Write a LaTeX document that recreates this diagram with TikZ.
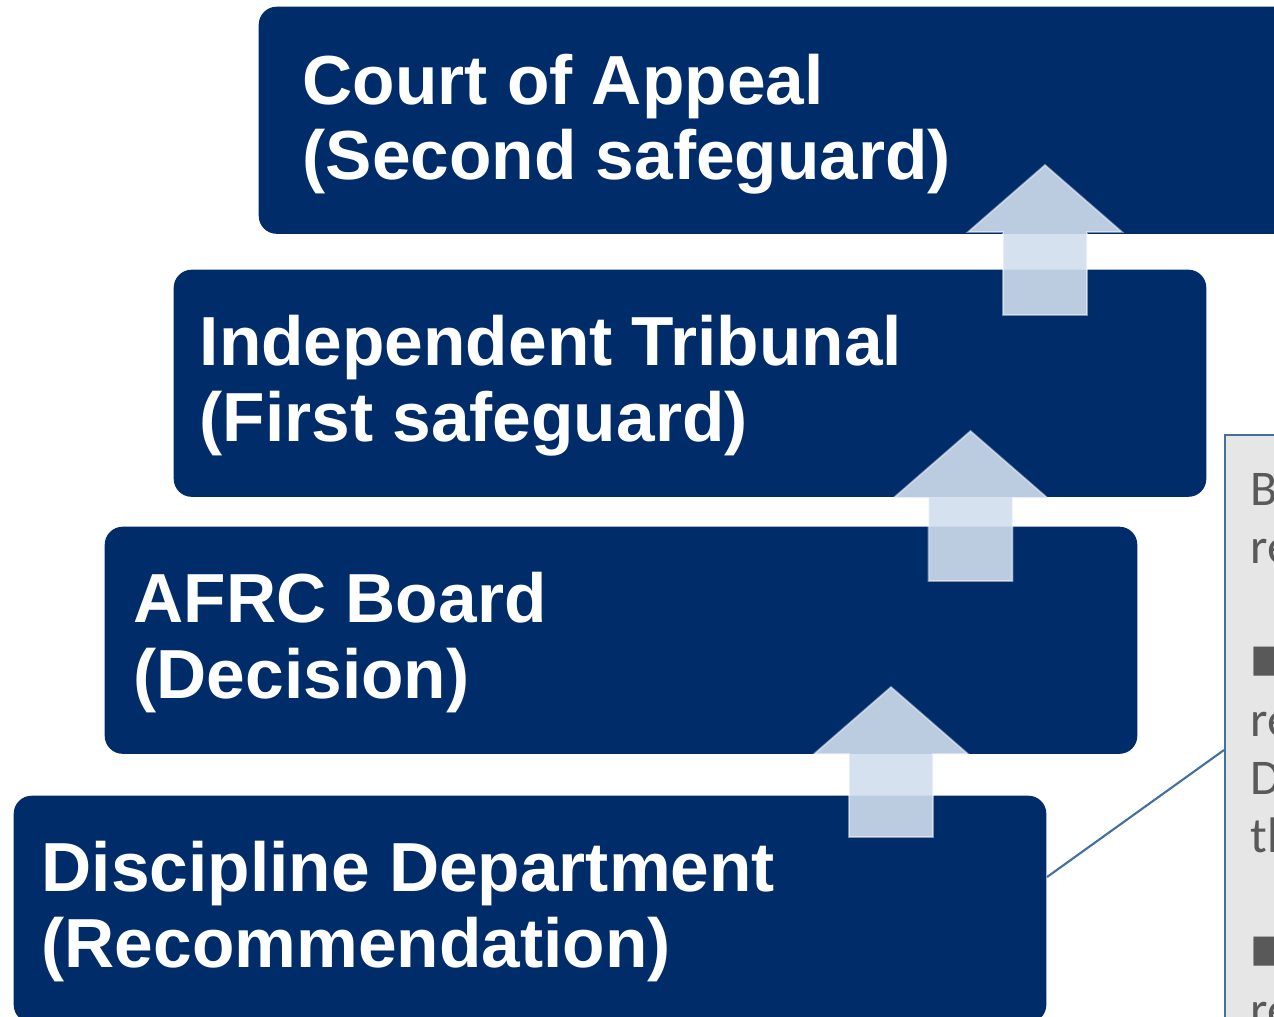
\documentclass[tikz,border=0pt]{standalone}
\usepackage{fontspec}
\usepackage{xcolor}
\newfontfamily\blockfont{Liberation Sans}
\newfontfamily\notefont{Carlito}
\newfontfamily\bulletfont{DejaVu Sans}
\newcommand\notebullet{\raisebox{2pt}{\bulletfont\fontsize{10.8}{10.8}\selectfont■}}
\definecolor{navy}{RGB}{0,44,105}
\definecolor{arrowblue}{RGB}{209,222,238}
\definecolor{notegray}{RGB}{231,230,230}
\definecolor{noteline}{RGB}{65,113,156}
\definecolor{notetext}{RGB}{89,89,89}

\begin{document}
\begin{tikzpicture}[x=0.01cm,y=-0.01cm,
		block/.style={fill=navy, rounded corners=0.18cm, minimum width=10.32cm, minimum height=2.27cm, anchor=north west, inner sep=0pt},
		blocktext/.style={text=white, anchor=base west, align=left, inner sep=0pt, font=\blockfont\bfseries\fontsize{19.75}{21.34}\selectfont},
		uparrow/.style={fill=arrowblue, fill opacity=0.9, draw=white, draw opacity=0.45, line width=0.5pt},
		note/.style={fill=notegray, draw=noteline, line width=0.7pt, minimum width=3cm, minimum height=7cm, anchor=north west},
		notetext/.style={text=notetext, anchor=base west, align=left, inner sep=0pt, font=\notefont\fontsize{14.2}{16.45}\selectfont},
		pointer/.style={draw=noteline, line width=0.6pt}]
		% Parameters
		\def\headw{77}
		\def\headh{67}
		\def\shaftw{42}
		\def\shaftl{150}
		
		\useasboundingbox (0,0) rectangle (1274,1016);
		\clip (0,0) rectangle (1274,1016);
		\fill[white] (0,0) rectangle (1274,1016);
		
		%blocks
		\node[block, minimum width=10.6cm] (court) at (258,6) {};
		\node[block] (tribunal) at (173,269) {};
		\node[block] (afrc) at (104,526) {};
		\node[block] (discipline) at (13,795) {};
		
		% base anchor = last line
		\node[blocktext] (courttxt) at (302,180) {Court of Appeal\\(Second safeguard)};
		\node[blocktext] (tribunaltxt) at (199,441) {Independent Tribunal\\(First safeguard)};
		\node[blocktext] (afrctxt) at (133,698) {AFRC Board\\(Decision)};
		\node[blocktext] (disciplinetxt) at (41,967) {Discipline Department\\(Recommendation)};
		
		%arrows
		\foreach \ax/\ay in {1045/165,970.5/431,891/687} {
			\begin{scope}[shift={(\ax,\ay)}]
				\filldraw[uparrow] (0,0) -- (\headw,\headh) -- (\shaftw,\headh) -- (\shaftw,\shaftl) -- (-\shaftw,\shaftl) -- (-\shaftw,\headh) -- (-\headw,\headh) -- cycle;
			\end{scope}
		}
		
		%note
		\node[note] (note) at (1224,434) {};
		\node[notetext] (notetxt) at (1250,1026) {B\\re\\[16.45pt]\notebullet\\re\\D\\th\\[16.45pt]\notebullet\\re};
		\draw[pointer] (discipline.east |- 0,877) -- (note.west |- 0,750);
		
\end{tikzpicture}
\end{document}
